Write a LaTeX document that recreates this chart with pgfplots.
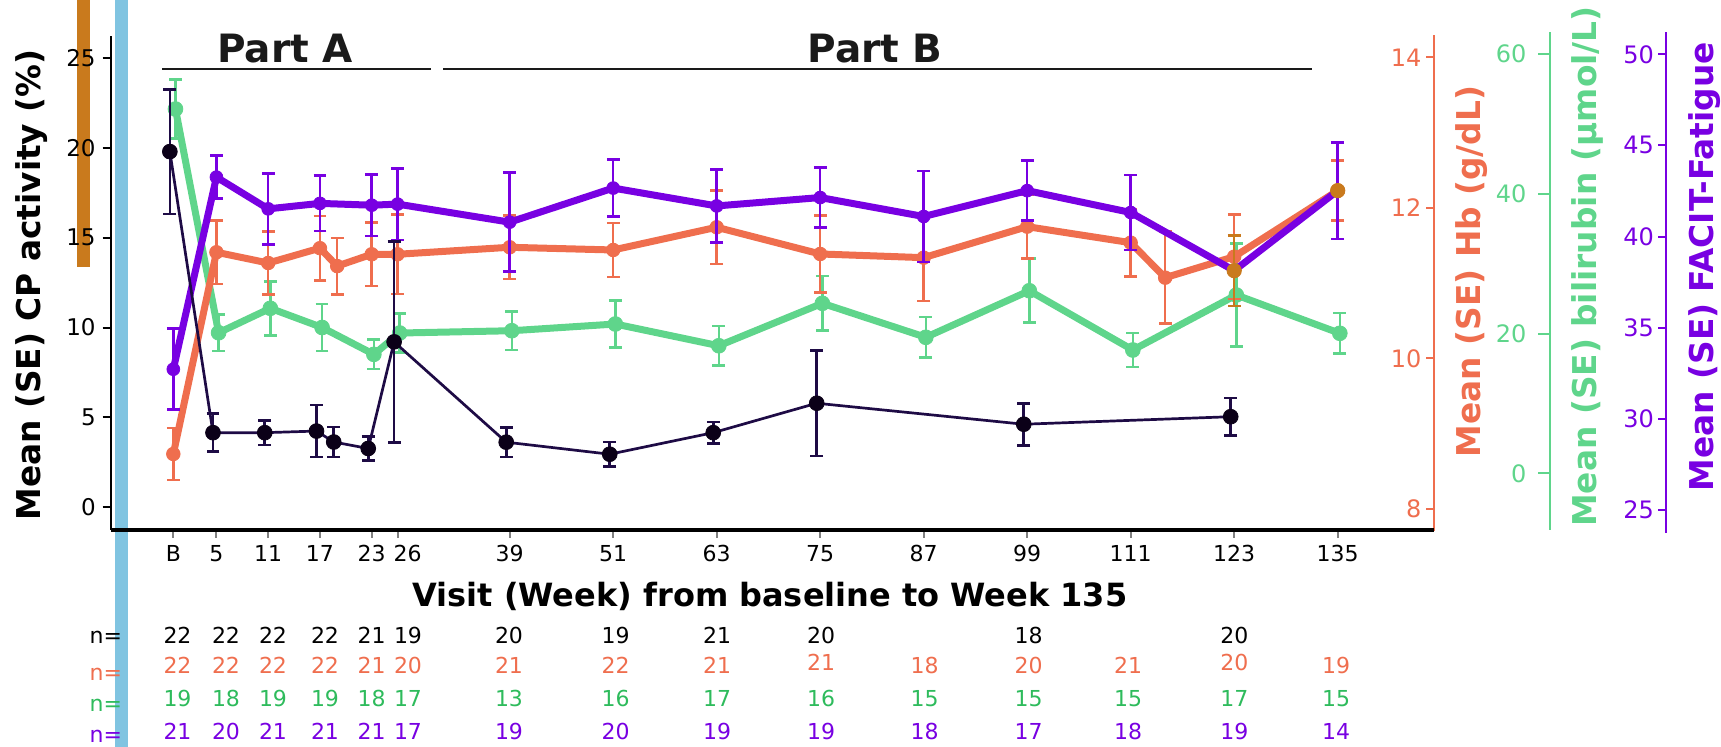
\documentclass[border=0pt]{standalone}
\usepackage{pgfplots}
\pgfplotsset{compat=1.18}
\usepackage{pgfplotstable}
\usepackage{fontspec}
\setmainfont{DejaVu Sans}

\definecolor{cpline}{HTML}{1E0B45}
\definecolor{cpmark}{HTML}{0B0018}
\definecolor{hbcol}{HTML}{EF6E4E}
\definecolor{bilicol}{HTML}{5FD58B}
\definecolor{bilitext}{HTML}{2EBB5C}
\definecolor{faccol}{HTML}{7800E2}
\definecolor{hilite}{HTML}{C97A1D}
\definecolor{barblue}{HTML}{80C4E1}
\definecolor{headgray}{HTML}{1A1A1A}

% week, mean, standard error
\pgfplotstableread{
w m se
0 19.80 3.47
5 4.14 1.06
11 4.14 0.68
17 4.23 1.45
19 3.62 0.83
23 3.26 0.67
26 9.20 5.60
39 3.61 0.82
51 2.94 0.67
63 4.14 0.60
75 5.78 2.94
99 4.61 1.17
123 5.03 1.04
}\cpdata

\pgfplotstableread{
w m se
0 8.728 0.343
5 11.409 0.42
11 11.266 0.42
17 11.463 0.43
19 11.225 0.375
23 11.382 0.42
26 11.382 0.53
39 11.475 0.42
51 11.439 0.36
63 11.741 0.49
75 11.386 0.51
87 11.337 0.576
99 11.749 0.42
111 11.536 0.45
115 11.071 0.61
123 11.350 0.56
135 12.227 0.40
}\hbdata

\pgfplotstableread{
w m se
0 52.12 4.25
5 20.11 2.60
11 23.61 3.86
17 20.86 3.35
23 17.02 2.10
26 20.07 2.80
39 20.40 2.77
51 21.36 3.33
63 18.25 2.81
75 24.32 3.90
87 19.46 2.93
99 26.12 4.58
111 17.64 2.43
123 25.51 7.39
135 20.03 2.89
}\bilidata

\pgfplotstableread{
w m se
0 32.72 2.22
5 43.26 1.18
11 41.52 1.95
17 41.82 1.52
23 41.72 1.70
26 41.78 1.97
39 40.79 2.71
51 42.66 1.57
63 41.68 2.00
75 42.14 1.65
87 41.10 2.49
99 42.52 1.65
111 41.32 2.06
123 38.13 1.94
135 42.52 2.65
}\facdata

\pgfplotsset{
  panel/.style={scale only axis, anchor=south west, xmin=-7.26, clip=false,
    /pgf/number format/assume math mode=true, tick align=inside,
    axis line style={-, line width=1pt}},
  rightscale/.style 2 args={hide x axis, axis y line*=right,
    y axis line style={#1}, ytick style={#1, line width=1pt},
    yticklabel style={anchor=east, inner sep=0pt, xshift=-#2, text=#1,
      font=\fontsize{12}{12}\selectfont}},
  trend/.style 2 args={color=#1, line width=3.5pt, mark=*, mark size=#2,
    mark options={line width=0.4pt, fill=#1},
    error bars/.cd, y dir=both, y explicit,
    error bar style={line width=1.3pt, color=#1},
    error mark options={rotate=90, mark size=3.2pt, line width=1.3pt, color=#1}},
}

\begin{document}
\begin{tikzpicture}
\path[use as bounding box] (0,0) rectangle (860.5pt,373.5pt);
% decorative vertical bands
\fill[hilite] (38.35pt,240.15pt) rectangle (45pt,373.5pt);
\fill[barblue] (57.5pt,0pt) rectangle (63.85pt,373.5pt);

% bilirubin
\begin{axis}[panel, rightscale={bilicol}{11.65pt}, at={(55.35pt,108.5pt)},
  width=719.65pt, height=248.85pt, xmax=159.62, ymin=-8.11, ymax=63.10,
  ytick={0,20,40,60}, major tick length=5.8pt]
\addplot[trend={bilicol}{3.7pt}] table[x expr=\thisrow{w}+0.25, y=m, y error=se]{\bilidata};
\end{axis}

% haemoglobin
\begin{axis}[panel, rightscale={hbcol}{6.15pt}, at={(55.35pt,108pt)},
  width=661.65pt, height=248pt, xmax=146.17, ymin=7.705, ymax=14.296,
  ytick={8,10,12,14}, major tick length=4pt]
\addplot[trend={hbcol}{3.4pt}] table[x=w, y=m, y error=se]{\hbdata};
\end{axis}

% FACIT-Fatigue
\begin{axis}[panel, rightscale={faccol}{5.7pt}, at={(55.35pt,107.15pt)},
  width=777.5pt, height=250.2pt, xmax=173.03, ymin=23.754, ymax=51.207,
  ytick={25,30,35,40,45,50}, major tick length=3.7pt]
\addplot[trend={faccol}{3.2pt}] table[x=w, y=m, y error=se]{\facdata};
\addplot[only marks, mark=*, mark size=3.6pt, color=hilite,
  error bars/.cd, y dir=both, y explicit,
  error bar style={line width=1.3pt, color=hilite},
  error mark options={rotate=90, mark size=3.2pt, line width=1.3pt, color=hilite}]
  coordinates {(123,38.13) +- (0,1.94)};
\addplot[only marks, mark=*, mark size=3.6pt, color=hilite] coordinates {(135,42.52)};
\end{axis}

% CP activity
\begin{axis}[panel, at={(55.35pt,108.5pt)},
  width=661.65pt, height=247pt, xmax=146.17, ymin=-1.282, ymax=26.243,
  axis x line*=bottom, axis y line*=left, tick align=outside,
  major tick length=4pt,
  x axis line style={line width=1.6pt},
  xtick={0,5,11,17,23,26,39,51,63,75,87,99,111,123,135},
  xticklabels={B,5,11,17,23,\hspace*{10pt}26,39,51,63,75,87,99,111,123,135},
  ytick={0,5,10,15,20,25},
  x tick style={gray, line width=1pt},
  y tick style={black, line width=1pt},
  xticklabel style={font=\fontsize{11}{12}\selectfont},
  yticklabel style={font=\fontsize{11.5}{12}\selectfont}]
\addplot[color=cpline, line width=1.35pt, mark=*, mark size=3.7pt,
  mark options={fill=cpmark, draw=cpmark, line width=0.4pt},
  error bars/.cd, y dir=both, y explicit,
  error bar style={line width=1.3pt, color=cpline},
  error mark options={rotate=90, mark size=3.2pt, line width=1.3pt, color=cpline}]
  table[x expr=\thisrow{w}-0.4, y=m, y error=se]{\cpdata};
\end{axis}

% study parts
\draw[headgray, line width=0.75pt] (81.15pt,339pt) -- (215.5pt,339pt);
\draw[headgray, line width=0.75pt] (221.65pt,339pt) -- (655.85pt,339pt);
\node[anchor=base, text=headgray, font=\fontsize{19.5}{20}\selectfont\bfseries] at (142.5pt,342pt) {Part A};
\node[anchor=base, text=headgray, font=\fontsize{19.5}{20}\selectfont\bfseries] at (437.5pt,342pt) {Part B};

% axis titles
\node[rotate=90, anchor=base, font=\fontsize{16.4}{18}\selectfont\bfseries] at (20pt,231pt) {Mean (SE) CP activity (\%)};
\node[rotate=90, anchor=base, text=hbcol, font=\fontsize{16.4}{18}\selectfont\bfseries] at (740pt,237.75pt) {Mean (SE) Hb (g/dL)};
\node[rotate=90, anchor=base, text=bilicol, font=\fontsize{16.4}{18}\selectfont\bfseries] at (798.35pt,240.25pt) {Mean (SE) bilirubin (µmol/L)};
\node[rotate=90, anchor=base, text=faccol, font=\fontsize{16.4}{18}\selectfont\bfseries] at (856.65pt,240.15pt) {Mean (SE) FACIT-Fatigue};
\node[anchor=base, font=\fontsize{16}{18}\selectfont\bfseries] at (385pt,70pt) {Visit (Week) from baseline to Week 135};

% numbers of patients per visit
\begin{scope}[every node/.style={anchor=base, font=\fontsize{11}{12}\selectfont}]
\node[anchor=base east] at (64.5pt,51.85pt) {n=};
\node[anchor=base east, text=hbcol] at (64.5pt,33pt) {n=};
\node[anchor=base east, text=bilitext] at (64.5pt,17.65pt) {n=};
\node[anchor=base east, text=faccol] at (64.5pt,2pt) {n=};
\foreach \x/\n in {177.5/22,226/22,273/22,325/22,371.6/21,408/19,509/20,615.7/19,717/21,821/20,1028.7/18,1234.4/20}
  \node at ({\x*0.5pt},51.85pt) {\n};
\foreach \x/\n in {177.5/22,226/22,273/22,325/22,371.6/21,408/20,509/21,615.7/22,717/21,924.5/18,1028.7/20,1128/21,1336/19}
  \node[text=hbcol] at ({\x*0.5pt},36.85pt) {\n};
\foreach \x/\n in {821/21,1234.4/20}
  \node[text=hbcol] at ({\x*0.5pt},38pt) {\n};
\foreach \x/\n in {177.5/19,226/18,273/19,325/19,371.6/18,408/17,509/13,615.7/16,717/17,821/16,924.5/15,1028.7/15,1128/15,1234.4/17,1336/15}
  \node[text=bilitext] at ({\x*0.5pt},20.15pt) {\n};
\foreach \x/\n in {177.5/21,226/20,273/21,325/21,371.6/21,408/17,509/19,615.7/20,717/19,821/19,924.5/18,1028.7/17,1128/18,1234.4/19,1336/14}
  \node[text=faccol] at ({\x*0.5pt},3.5pt) {\n};
\end{scope}
\end{tikzpicture}
\end{document}
